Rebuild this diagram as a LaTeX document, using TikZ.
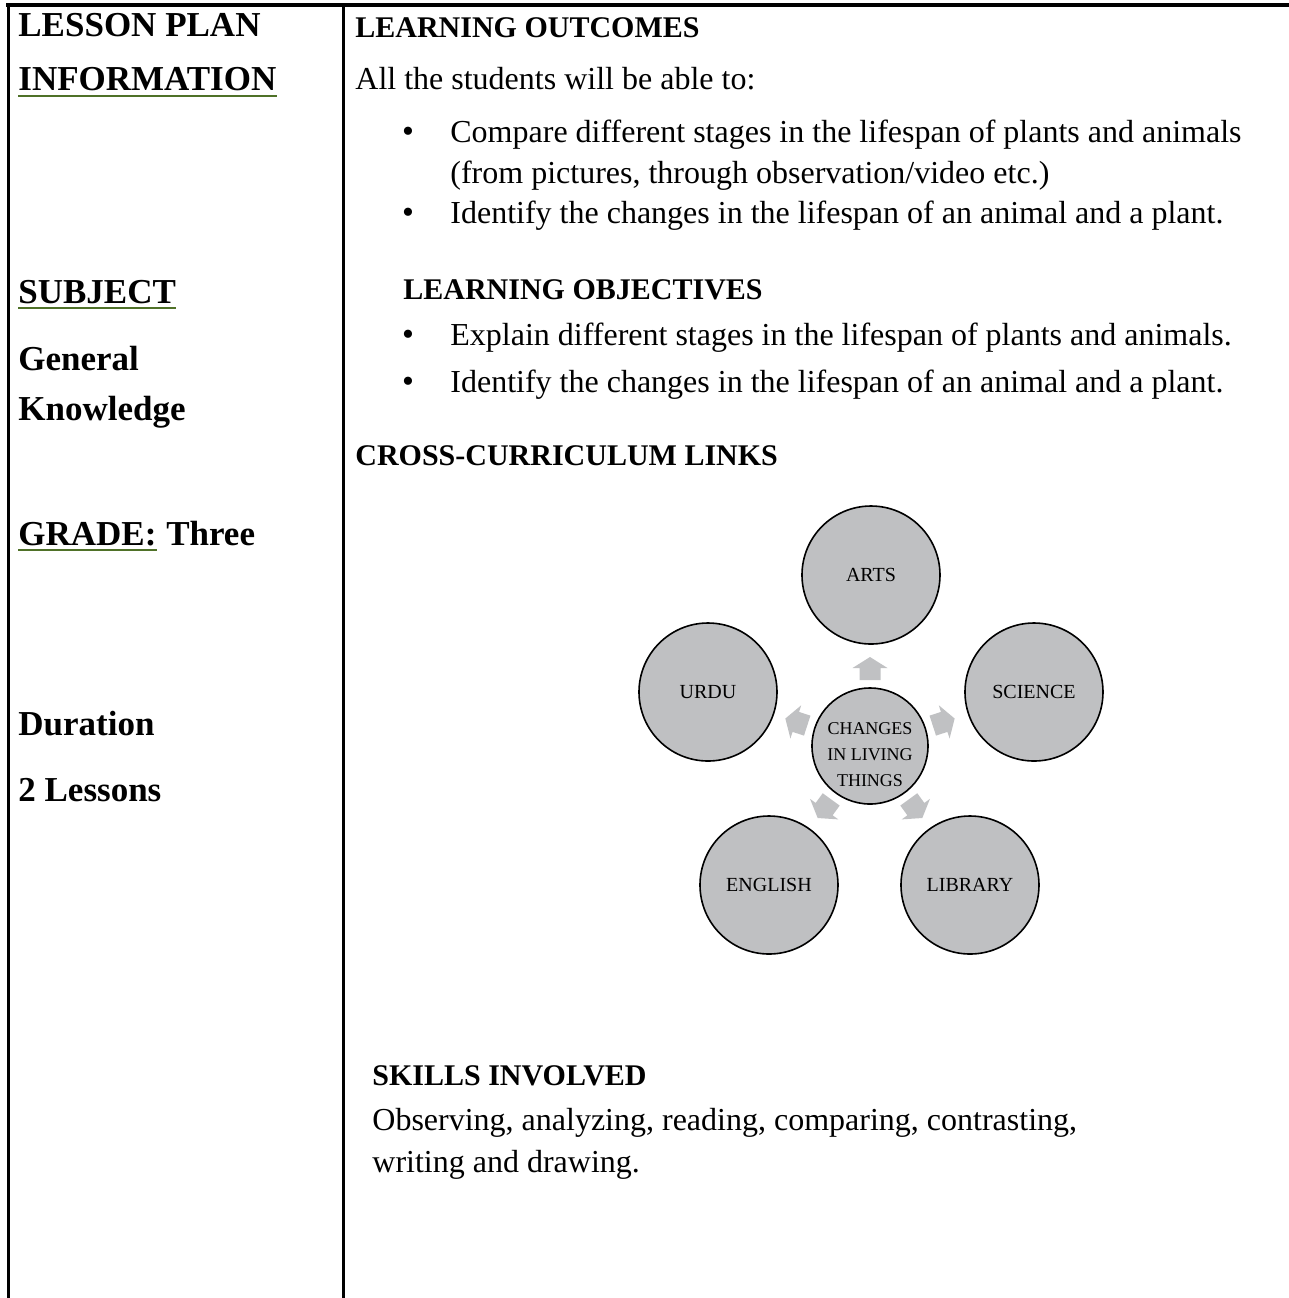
\documentclass[tikz,border=0pt]{standalone}
\usepackage{fontspec}
\setmainfont{Liberation Serif}
\usetikzlibrary{positioning}
\definecolor{discgray}{RGB}{191,192,194}
\definecolor{arrowgray}{RGB}{192,193,195}
\definecolor{ulgreen}{RGB}{79,113,40}

\begin{document}
\begin{tikzpicture}[x=0.5pt,y=-0.5pt,
    lefthead/.style={anchor=base west,inner sep=0pt,font=\fontsize{17.5}{21}\selectfont\bfseries},
    heading/.style={anchor=base west,inner sep=0pt,font=\fontsize{15}{18}\selectfont\bfseries},
    body/.style={anchor=base west,inner sep=0pt,font=\fontsize{16}{19}\selectfont},
    dot/.style={anchor=base,inner sep=0pt,font=\fontsize{17}{19}\selectfont},
    topic/.style={circle,draw,line width=0.8pt,fill=discgray,minimum size=69pt,inner sep=0pt,font=\fontsize{10}{12}\selectfont},
    hub/.style={circle,draw,line width=0.8pt,fill=discgray,minimum size=58pt,inner sep=0pt},
    hubtext/.style={align=center,inner sep=0pt,font=\fontsize{9}{13}\selectfont},
    ul/.style={ulgreen,line width=1pt}]
\useasboundingbox (0,0) rectangle (1289,1298);

    % frame
    \draw [line width=2pt] (6,5) -- (1289,5);
    \draw [line width=1.5pt] (8,4) -- (8,1298);
    \draw [line width=1.5pt] (343,4) -- (343,1298);

    % left column
    \node [lefthead] (lp) at (18,36) {LESSON PLAN};
    \node [lefthead] (info) at (18,90) {INFORMATION};
    \node [lefthead] (subj) at (18,303) {SUBJECT};
    \node [lefthead] (gen) at (18,370) {General};
    \node [lefthead] (know) at (18,420) {Knowledge};
    \node [lefthead] (grade) at (18,545) {GRADE:};
    \node [lefthead, base right=4.5pt of grade] (three) {Three};
    \node [lefthead] (dur) at (18,735) {Duration};
    \node [lefthead] (less) at (18,801) {2 Lessons};
    %% underlines
    \draw [ul] ([yshift=-3pt]info.base west) -- ([yshift=-3pt]info.base east);
    \draw [ul] ([yshift=-2.5pt]subj.base west) -- ([yshift=-2.5pt]subj.base east);
    \draw [ul] ([yshift=-2.5pt]grade.base west) -- ([yshift=-2.5pt]grade.base east);

    % outcomes
    \node [heading] (lo) at (355,37) {LEARNING OUTCOMES};
    \node [body] (all) at (355,89) {All the students will be able to:};
    \node [dot] (b1) at (408,142) {\textbullet};
    \node [body] (lo1) at (450,142) {Compare different stages in the lifespan of plants and animals};
    \node [body] (lo1b) at (450,183) {(from pictures, through observation/video etc.)};
    \node [dot] (b2) at (408,223) {\textbullet};
    \node [body] (lo2) at (450,223) {Identify the changes in the lifespan of an animal and a plant.};

    % objectives
    \node [heading] (obj) at (403,299) {LEARNING OBJECTIVES};
    \node [dot] (b3) at (408,345) {\textbullet};
    \node [body] (ob1) at (450,345) {Explain different stages in the lifespan of plants and animals.};
    \node [dot] (b4) at (408,392) {\textbullet};
    \node [body] (ob2) at (450,392) {Identify the changes in the lifespan of an animal and a plant.};

    % links
    \node [heading] (ccl) at (355,465) {CROSS-CURRICULUM LINKS};
    \node [topic] (arts) at (871,575) {ARTS};
    \node [topic] (urdu) at (708,692) {URDU};
    \node [topic] (sci) at (1034,692) {SCIENCE};
    \node [topic] (eng) at (769,885) {ENGLISH};
    \node [topic] (lib) at (970,885) {LIBRARY};
    \node [hub] (hub) at (870,746) {};
    \node [hubtext] (hubtxt) at ([yshift=-4.5pt]hub.center) {CHANGES\\IN LIVING\\THINGS};
    %% block arrows
    \foreach \a in {90,18,162,-54,-126}
        \fill [arrowgray, shift={(hub.center)}, rotate=\a]
            (66,-10.5) -- (78,-10.5) -- (78,-17.5) -- (89,0) -- (78,17.5) -- (78,10.5) -- (66,10.5) -- cycle;

    % skills
    \node [heading] (skills) at (372,1085) {SKILLS INVOLVED};
    \node [body] (sk1) at (372,1130) {Observing, analyzing, reading, comparing, contrasting,};
    \node [body] (sk2) at (372,1172) {writing and drawing.};

\end{tikzpicture}
\end{document}
